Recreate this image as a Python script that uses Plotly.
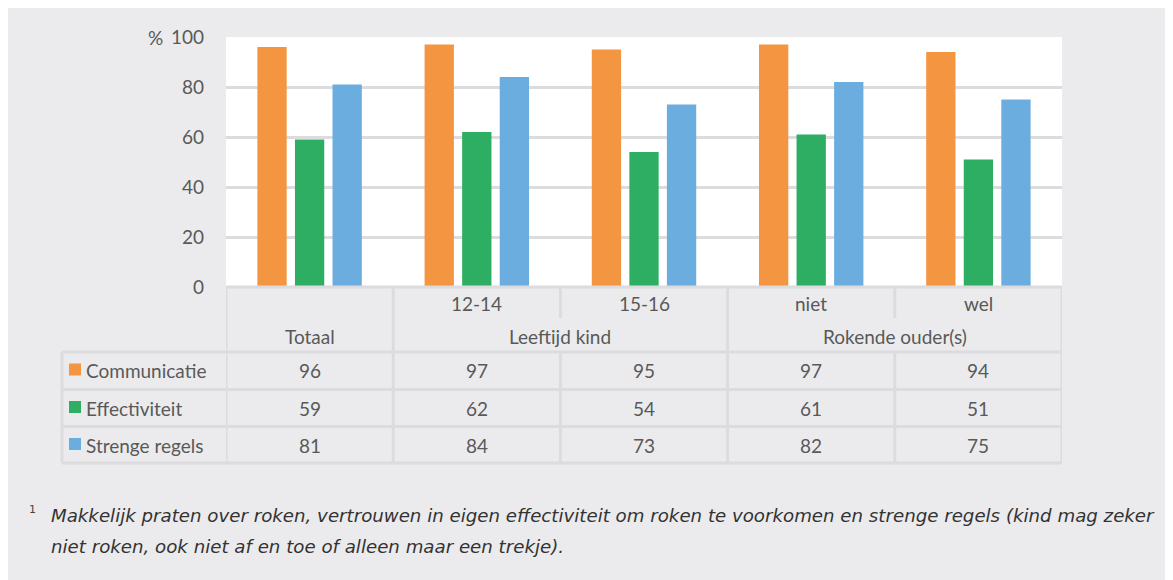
import plotly.graph_objects as go

categories = ["Totaal", "12-14", "15-16", "niet", "wel"]
series_names = ["Communicatie", "Effectiviteit", "Strenge regels"]
communicatie = [96, 97, 95, 97, 94]
effectiviteit = [59, 62, 54, 61, 51]
strenge_regels = [81, 84, 73, 82, 75]
y_ticks = [0, 20, 40, 60, 80, 100]
groups = [("Totaal", ["Totaal"]), ("Leeftijd kind", ["12-14", "15-16"]), ("Rokende ouder(s)", ["niet", "wel"])]
footnote_1 = "Makkelijk praten over roken, vertrouwen in eigen effectiviteit om roken te voorkomen en strenge regels (kind mag zeker"
footnote_2 = "niet roken, ook niet af en toe of alleen maar een trekje)."

colors = ["#F39541", "#2EAE62", "#6CADDF"]
values = [communicatie, effectiviteit, strenge_regels]

OFF = 8  # page body margin
W, H = 1173 - OFF, 580 - OFF
L, R, T, B = 226, 1062, 37, 287  # reference pixel coordinates of plot area
FONT = "Lato"
TXT = "#595959"
LINE = "#DCDCDE"
BG = "#EBEBED"


def px(x):
    return (x - L) / (R - L)


def py(y):
    return (B - y) / (B - T)


fig = go.Figure()
for name, vals, c in zip(series_names, values, colors):
    fig.add_trace(go.Bar(x=categories, y=vals, name=name, marker=dict(color=c, line=dict(width=0))))

shapes = []
annotations = []
shapes.append(dict(type="rect", xref="paper", yref="paper", x0=0, x1=1, y0=0, y1=1,
                   fillcolor="white", line=dict(width=0), layer="below"))

lw = 3
rows_y = [352, 389.5, 426.5, 463]
shapes.append(dict(type="line", xref="paper", yref="paper", x0=0, x1=1, y0=py(287), y1=py(287), line=dict(color=LINE, width=lw)))
for yy in rows_y:
    shapes.append(dict(type="line", xref="paper", yref="paper", x0=px(62), x1=1, y0=py(yy), y1=py(yy), line=dict(color=LINE, width=lw)))
shapes.append(dict(type="line", xref="paper", yref="paper", x0=px(62), x1=px(62), y0=py(352), y1=py(463), line=dict(color=LINE, width=lw)))
n = len(categories)
bounds = [-0.5]
acc = -0.5
for g, members in groups:
    acc += len(members)
    bounds.append(acc)
for i in range(n + 1):
    xv = i - 0.5
    if xv in bounds:
        shapes.append(dict(type="line", xref="x", yref="paper", x0=xv, x1=xv, y0=py(287), y1=py(463), line=dict(color=LINE, width=lw)))
    else:
        shapes.append(dict(type="line", xref="x", yref="paper", x0=xv, x1=xv, y0=py(287), y1=py(318), line=dict(color=LINE, width=lw)))
        shapes.append(dict(type="line", xref="x", yref="paper", x0=xv, x1=xv, y0=py(352), y1=py(463), line=dict(color=LINE, width=lw)))

fs = 19
for c in categories:
    if any(g == c for g, _ in groups):
        continue
    annotations.append(dict(x=c, y=py(303), xref="x", yref="paper", text=c, showarrow=False,
                            font=dict(family=FONT, size=fs, color=TXT), xanchor="center", yanchor="middle"))
start = 0
for g, members in groups:
    center = start + (len(members) - 1) / 2
    annotations.append(dict(x=center, y=py(336), xref="x", yref="paper", text=g, showarrow=False,
                            font=dict(family=FONT, size=fs, color=TXT), xanchor="center", yanchor="middle"))
    start += len(members)
row_centers = [370.5, 408, 445]
for name, vals, c, yc in zip(series_names, values, colors, row_centers):
    shapes.append(dict(type="rect", xref="paper", yref="paper", x0=px(69), x1=px(81), y0=py(yc - 7), y1=py(yc + 5),
                       fillcolor=c, line=dict(width=0)))
    annotations.append(dict(x=px(84), y=py(yc), xref="paper", yref="paper", text=name, showarrow=False,
                            font=dict(family=FONT, size=fs, color=TXT), xanchor="left", yanchor="middle"))
    for cat, v in zip(categories, vals):
        annotations.append(dict(x=cat, y=py(yc), xref="x", yref="paper", text=str(v), showarrow=False,
                                font=dict(family=FONT, size=fs, color=TXT), xanchor="center", yanchor="middle"))
annotations.append(dict(x=px(165), y=1, xref="paper", yref="paper", text="%", showarrow=False,
                        font=dict(family=FONT, size=fs, color=TXT), xanchor="right", yanchor="middle"))
annotations.append(dict(x=px(27), y=py(509), xref="paper", yref="paper", text="1", showarrow=False,
                        font=dict(family="DejaVu Sans", size=11, color="#444444"), xanchor="left", yanchor="middle"))
for txt, yy in [(footnote_1, 515), (footnote_2, 546)]:
    annotations.append(dict(x=px(49), y=py(yy), xref="paper", yref="paper", text="<i>" + txt + "</i>", showarrow=False,
                            font=dict(family="DejaVu Sans", size=18.2, color="#333333"), xanchor="left", yanchor="middle"))

fig.update_layout(
    width=W, height=H,
    margin=dict(l=L - OFF, r=1173 - R, t=T - OFF, b=580 - B, pad=0),
    paper_bgcolor=BG, plot_bgcolor="rgba(0,0,0,0)",
    barmode="group", bargap=0.326, bargroupgap=0.22,
    showlegend=False,
    shapes=shapes, annotations=annotations,
    font=dict(family=FONT, size=fs, color=TXT),
    xaxis=dict(showticklabels=False, showgrid=False, zeroline=False, showline=False, ticks="",
               range=[-0.5, n - 0.5], fixedrange=True),
    yaxis=dict(range=[0, 100], tickvals=y_ticks, ticktext=[str(t) for t in y_ticks], showgrid=True,
               gridcolor="#DCDCDE", gridwidth=2.5, zeroline=False, showline=False, ticks="",
               ticklabelstandoff=21, tickfont=dict(family=FONT, size=fs, color=TXT), fixedrange=True),
)

fig.write_html("out.html")
